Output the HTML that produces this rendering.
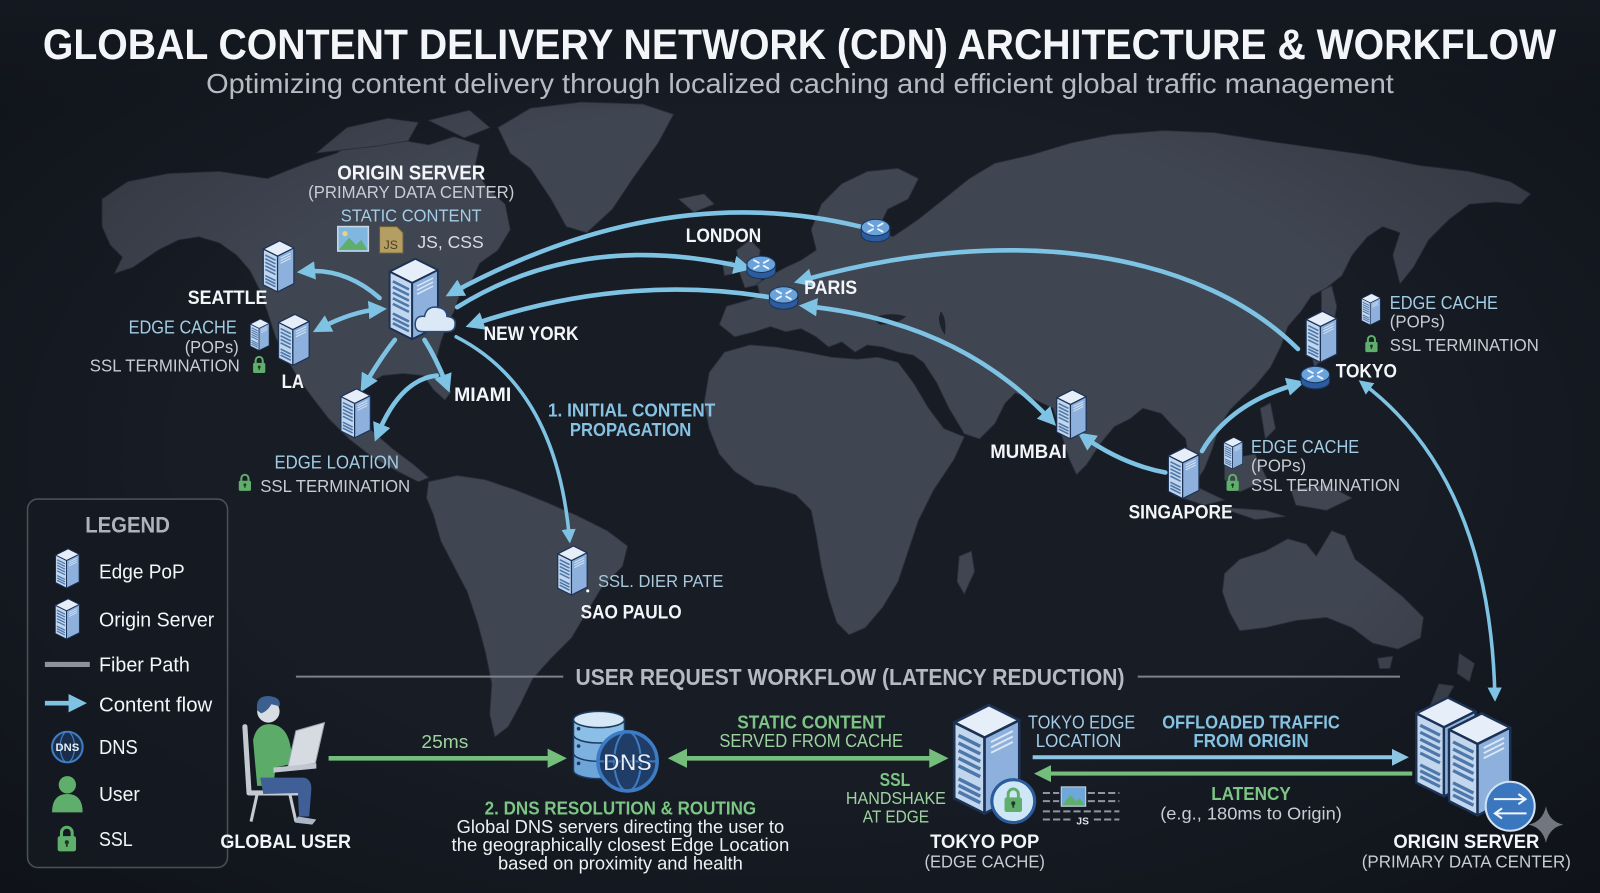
<!DOCTYPE html>
<html><head><meta charset="utf-8"><style>
html,body{margin:0;padding:0;background:#161b23;}
svg{display:block}
text{font-family:"Liberation Sans Narrow","Liberation Sans",sans-serif;}
.b{font-weight:bold}
.w{fill:#f3f5f8}
.g{fill:#c8cdd4}
.lb{fill:#a3cde6}
.bb{fill:#86c2e2}
.gr{fill:#7dc584}
.gl{fill:#9dd39f}
</style></head><body>
<svg width="1600" height="893" viewBox="0 0 1568 875" preserveAspectRatio="none" xmlns="http://www.w3.org/2000/svg">
<defs>
<radialGradient id="vig" cx="50%" cy="50%" r="70%">
<stop offset="0.55" stop-color="#000" stop-opacity="0"/>
<stop offset="1" stop-color="#000" stop-opacity="0.35"/>
</radialGradient>
<linearGradient id="topfade" x1="0" y1="0" x2="0" y2="1">
<stop offset="0" stop-color="#141820" stop-opacity="1"/>
<stop offset="1" stop-color="#141820" stop-opacity="0"/>
</linearGradient>
<marker id="mb" viewBox="0 0 10 10" refX="6" refY="5" markerWidth="4" markerHeight="4" orient="auto-start-reverse"><path d="M0,0 L10,5 L0,10 Z" fill="#7ec3e3"/></marker>
<marker id="mg" viewBox="0 0 10 10" refX="6" refY="5" markerWidth="4.2" markerHeight="4.2" orient="auto-start-reverse"><path d="M0,0 L10,5 L0,10 Z" fill="#74bd7b"/></marker>
<marker id="mb2" viewBox="0 0 10 10" refX="6" refY="5" markerWidth="4.2" markerHeight="4.2" orient="auto-start-reverse"><path d="M0,0 L10,5 L0,10 Z" fill="#8cc6e4"/></marker>
<symbol id="srv" viewBox="0 0 32 52">
<path d="M1,9 L17,1 L31,8 L15,16 Z" fill="#e6eefa" stroke="#1c3255" stroke-width="1.2" stroke-linejoin="round"/>
<path d="M1,9 L15,16 L15,51 L1,44 Z" fill="#c2d6ee" stroke="#1c3255" stroke-width="1.2" stroke-linejoin="round"/>
<path d="M15,16 L31,8 L31,43 L15,51 Z" fill="#8db1dc" stroke="#1c3255" stroke-width="1.2" stroke-linejoin="round"/>
<path d="M3,15 L13,20 M3,18.5 L13,23.5 M3,22 L13,27 M3,25.5 L13,30.5 M3,29 L13,34 M3,35 L13,40 M3,38 L13,43 M3,41 L13,46" stroke="#4e77aa" stroke-width="1.6"/>
<path d="M18,18 L28,13 M18,20.5 L28,15.5 M18,23 L28,18" stroke="#dbe7f5" stroke-width="0.9"/>
</symbol>
<symbol id="rtr" viewBox="0 0 30 30">
<path d="M1,12 V19 A14,7 0 0 0 29,19 V12 Z" fill="#2c5c9e" stroke="#18345e" stroke-width="1"/>
<ellipse cx="15" cy="12" rx="14" ry="8" fill="#6aa3dc" stroke="#18345e" stroke-width="1"/>
<path d="M8,8 L12.5,10.5 M22,8 L17.5,10.5 M8,16 L12.5,13.5 M22,16 L17.5,13.5" stroke="#eef5fc" stroke-width="1.8" stroke-linecap="round"/>
</symbol>
<symbol id="lock" viewBox="0 0 14 18">
<path d="M3.5,8 V5.2 A3.5,3.5 0 0 1 10.5,5.2 V8" fill="none" stroke="#5fae6b" stroke-width="2"/>
<rect x="1" y="7.5" width="12" height="10" rx="1.5" fill="#5fae6b"/>
<circle cx="7" cy="11.5" r="1.4" fill="#1e3a24"/><rect x="6.4" y="11.5" width="1.2" height="3" fill="#1e3a24"/>
</symbol>
</defs>

<rect width="1568" height="875" fill="#171c25"/>

<!-- MAP -->
<g fill="#3f4551" stroke="#2b303a" stroke-width="0.8">
<path d="M100,195 L125,178 L165,170 L215,168 L262,175 L300,160 L330,150 L345,140 L380,135 L420,142 L445,134 L470,142 L465,165 L478,185 L495,200 L500,225 L488,245 L470,258 L462,275 L450,290 L445,305 L438,318 L432,335 L428,350 L432,368 L442,384 L436,392 L425,382 L415,368 L395,366 L375,368 L358,378 L350,395 L362,420 L385,440 L405,455 L420,468 L410,472 L390,462 L365,448 L342,430 L322,410 L305,388 L292,370 L280,350 L270,330 L262,305 L255,285 L245,265 L232,250 L215,238 L195,232 L175,235 L155,245 L130,262 L112,268 L120,252 L108,240 L100,222 Z"/>
<path d="M310,150 L340,125 L380,116 L410,120 L400,138 L370,143 Z"/>
<path d="M420,118 L460,108 L480,125 L455,135 Z"/>
<path d="M488,125 L520,106 L570,100 L630,102 L660,112 L645,140 L620,175 L600,205 L575,228 L555,222 L540,195 L520,165 L500,150 Z"/>
<path d="M665,195 L690,190 L700,200 L680,208 Z"/>
<path d="M420,472 L448,466 L475,470 L505,480 L535,492 L565,505 L595,520 L615,535 L610,555 L590,575 L575,600 L560,625 L540,645 L522,665 L510,690 L498,712 L485,722 L480,700 L482,670 L476,640 L468,610 L458,580 L445,555 L432,530 L425,505 L418,488 Z"/>
<path d="M722,245 L735,235 L745,245 L742,265 L748,278 L730,282 L725,268 Z"/>
<path d="M708,258 L718,255 L720,268 L710,270 Z"/>
<path d="M705,318 L712,300 L730,295 L745,290 L742,278 L755,270 L770,262 L785,255 L800,245 L795,225 L805,200 L825,180 L850,168 L880,165 L900,175 L890,195 L870,205 L860,225 L875,232 L900,215 L925,195 L950,175 L975,160 L1010,152 L1050,140 L1090,132 L1140,128 L1190,130 L1240,138 L1290,145 L1340,152 L1390,162 L1440,168 L1480,178 L1500,190 L1490,200 L1465,198 L1440,200 L1420,215 L1400,235 L1385,262 L1372,278 L1365,250 L1372,228 L1355,222 L1340,232 L1325,250 L1315,270 L1300,282 L1285,290 L1275,305 L1262,320 L1255,340 L1245,360 L1230,378 L1215,392 L1205,402 L1195,418 L1188,440 L1180,460 L1170,475 L1162,468 L1165,450 L1162,430 L1150,418 L1138,405 L1120,400 L1108,410 L1092,418 L1078,435 L1065,455 L1055,465 L1048,450 L1040,425 L1032,400 L1015,392 L995,385 L985,395 L975,415 L960,430 L945,425 L930,400 L918,375 L905,355 L895,348 L880,345 L865,340 L850,338 L838,345 L825,335 L812,340 L800,330 L785,322 L770,325 L755,320 L740,325 L720,330 Z"/>
<path d="M695,365 L710,345 L735,338 L760,340 L790,345 L815,350 L840,352 L860,350 L880,355 L895,375 L910,400 L925,420 L945,428 L935,450 L915,480 L900,510 L890,540 L880,570 L865,595 L848,615 L832,622 L820,610 L812,585 L805,555 L800,525 L795,500 L780,485 L760,478 L740,475 L720,462 L705,445 L695,420 L690,395 Z"/>
<path d="M940,545 L952,540 L955,560 L945,582 L938,570 Z"/>
<path d="M1295,285 L1305,280 L1310,300 L1305,330 L1298,350 L1288,360 L1285,345 L1295,325 Z"/>
<path d="M1150,485 L1175,478 L1200,490 L1180,495 Z"/>
<path d="M1195,497 L1240,500 L1260,506 L1230,509 Z"/>
<path d="M1200,450 L1230,445 L1242,470 L1215,482 L1200,470 Z"/>
<path d="M1265,480 L1300,475 L1325,488 L1300,500 L1270,495 Z"/>
<path d="M1235,400 L1245,395 L1250,420 L1240,430 Z"/>
<path d="M1200,562 L1215,548 L1240,540 L1262,528 L1280,533 L1290,545 L1305,520 L1318,525 L1328,548 L1350,565 L1375,585 L1395,605 L1392,625 L1370,636 L1345,630 L1325,615 L1300,605 L1270,608 L1240,615 L1215,618 L1205,600 L1198,580 Z"/>
<path d="M1350,645 L1365,643 L1362,655 L1352,655 Z"/>
<path d="M1430,640 L1445,650 L1440,668 L1428,660 Z"/>
<path d="M1410,670 L1425,672 L1415,690 L1400,695 Z"/>
</g>
<g fill="#1d222b"><path d="M855,312 Q870,305 888,310 Q880,318 862,318 Z"/><path d="M922,305 Q928,312 926,328 Q921,322 920,312 Z"/></g>
<rect width="1568" height="875" fill="url(#vig)"/>
<rect width="1568" height="110" fill="url(#topfade)"/>

<!-- TITLE -->
<text x="42" y="58" class="b w" font-size="42" textLength="1483" lengthAdjust="spacingAndGlyphs">GLOBAL CONTENT DELIVERY NETWORK (CDN) ARCHITECTURE &amp; WORKFLOW</text>
<text x="202" y="91" fill="#b6bbc3" font-size="27" textLength="1164" lengthAdjust="spacingAndGlyphs">Optimizing content delivery through localized caching and efficient global traffic management</text>

<!-- ARROWS -->
<g fill="none" stroke="#7ec3e3" stroke-width="4.5" stroke-linecap="round">
<path d="M372,292 Q338,262 298,266" marker-end="url(#mb)"/>
<path d="M372,303 Q345,305 313,322" marker-start="url(#mb)" marker-end="url(#mb)"/>
<path d="M387,333 Q372,352 357,378" marker-end="url(#mb)"/>
<path d="M416,333 Q428,352 438,378" marker-end="url(#mb)"/>
<path d="M428,368 Q392,372 370,426" marker-end="url(#mb)"/>
<path d="M843,222 Q650,175 443,287" marker-end="url(#mb)"/>
<path d="M448,301 Q570,225 730,262" marker-end="url(#mb)"/>
<path d="M753,291 Q610,268 463,318" marker-end="url(#mb)"/>
<path d="M1272,342 C1180,250 1000,215 785,275" marker-end="url(#mb)"/>
<path d="M790,300 Q940,315 1030,412" marker-start="url(#mb)" marker-end="url(#mb)"/>
<path d="M1142,463 Q1100,455 1062,428" marker-end="url(#mb)"/>
<path d="M1178,442 Q1205,395 1272,376" marker-end="url(#mb)"/>
<path d="M1336,376 Q1460,470 1465,682" stroke-width="3.5" marker-start="url(#mb)" marker-end="url(#mb)"/>
<path d="M447,330 Q545,380 558,527" stroke-width="3.5" marker-end="url(#mb)"/>
</g>

<!-- MAP ICONS -->
<use href="#srv" x="377" y="252" width="57" height="82"/>
<path d="M414,325 Q406,325 407,316 Q408,309 416,310 Q418,300 428,301 Q438,302 438,310 Q447,311 446,318 Q446,325 438,325 Z" fill="#dbe8f6" stroke="#2a4a78" stroke-width="1.5"/>
<use href="#srv" x="257" y="235" width="32" height="52"/>
<use href="#srv" x="244" y="312" width="21" height="32"/>
<use href="#srv" x="272" y="307" width="32" height="52"/>
<use href="#srv" x="333" y="380" width="31" height="50"/>
<use href="#srv" x="545" y="534" width="32" height="50"/>
<use href="#srv" x="1034" y="381" width="32" height="50"/>
<use href="#srv" x="1279" y="304" width="32" height="52"/>
<use href="#srv" x="1333" y="287" width="21" height="32"/>
<use href="#srv" x="1144" y="437" width="32" height="53"/>
<use href="#srv" x="1198" y="428" width="21" height="32"/>
<use href="#rtr" x="843" y="211" width="30" height="30"/>
<use href="#rtr" x="731" y="247" width="30" height="30"/>
<use href="#rtr" x="753" y="277" width="30" height="30"/>
<use href="#rtr" x="1274" y="355" width="30" height="30"/>
<use href="#lock" x="247" y="348" width="14" height="18"/>
<use href="#lock" x="233" y="463" width="14" height="19"/>
<use href="#lock" x="1337" y="327" width="14" height="19"/>
<use href="#lock" x="1201" y="463" width="14" height="19"/>
<!-- static content icons -->
<rect x="331" y="222" width="30" height="24" fill="#7fb7e0" stroke="#c9d6e4" stroke-width="1.5"/>
<path d="M332,245 L342,233 L349,240 L354,235 L360,245 Z" fill="#5fae6b"/>
<circle cx="338" cy="229" r="2.5" fill="#e8d77a"/>
<path d="M372,222 L389,222 L395,228 L395,248 L372,248 Z" fill="#b59e63" stroke="#6d5d34" stroke-width="1"/>
<text x="383" y="244" font-size="12" fill="#4a3e20" text-anchor="middle">JS</text>

<!-- MAP LABELS -->
<text x="403" y="176" class="b w" font-size="20" text-anchor="middle" textLength="145" lengthAdjust="spacingAndGlyphs">ORIGIN SERVER</text>
<text x="403" y="194" class="g" font-size="17" text-anchor="middle" textLength="202" lengthAdjust="spacingAndGlyphs">(PRIMARY DATA CENTER)</text>
<text x="403" y="217" class="lb" font-size="17" text-anchor="middle" textLength="138" lengthAdjust="spacingAndGlyphs">STATIC CONTENT</text>
<text x="409" y="243" fill="#d8dde5" font-size="17" textLength="65" lengthAdjust="spacingAndGlyphs">JS,  CSS</text>
<text x="262" y="298" class="b w" font-size="19" text-anchor="end" textLength="78" lengthAdjust="spacingAndGlyphs">SEATTLE</text>
<text x="232" y="327" class="lb" font-size="18" text-anchor="end" textLength="106" lengthAdjust="spacingAndGlyphs">EDGE CACHE</text>
<text x="234" y="346" class="g" font-size="17" text-anchor="end" textLength="53" lengthAdjust="spacingAndGlyphs">(POPs)</text>
<text x="235" y="364" class="g" font-size="17" text-anchor="end" textLength="147" lengthAdjust="spacingAndGlyphs">SSL TERMINATION</text>
<text x="276" y="380" class="b w" font-size="19" textLength="22" lengthAdjust="spacingAndGlyphs">LA</text>
<text x="474" y="333" class="b w" font-size="19" textLength="93" lengthAdjust="spacingAndGlyphs">NEW YORK</text>
<text x="445" y="393" class="b w" font-size="19" textLength="56" lengthAdjust="spacingAndGlyphs">MIAMI</text>
<text x="330" y="459" class="lb" font-size="18" text-anchor="middle" textLength="122" lengthAdjust="spacingAndGlyphs">EDGE LOATION</text>
<text x="255" y="482" class="g" font-size="17" textLength="147" lengthAdjust="spacingAndGlyphs">SSL TERMINATION</text>
<text x="619" y="408" class="b bb" font-size="18" text-anchor="middle" textLength="164" lengthAdjust="spacingAndGlyphs">1. INITIAL CONTENT</text>
<text x="618" y="427" class="b bb" font-size="18" text-anchor="middle" textLength="119" lengthAdjust="spacingAndGlyphs">PROPAGATION</text>
<text x="709" y="237" class="b w" font-size="19" text-anchor="middle" textLength="74" lengthAdjust="spacingAndGlyphs">LONDON</text>
<text x="788" y="288" class="b w" font-size="19" textLength="52" lengthAdjust="spacingAndGlyphs">PARIS</text>
<text x="1008" y="449" class="b w" font-size="19" text-anchor="middle" textLength="75" lengthAdjust="spacingAndGlyphs">MUMBAI</text>
<text x="1309" y="370" class="b w" font-size="19" textLength="60" lengthAdjust="spacingAndGlyphs">TOKYO</text>
<text x="1362" y="303" class="lb" font-size="18" textLength="106" lengthAdjust="spacingAndGlyphs">EDGE CACHE</text>
<text x="1362" y="321" class="g" font-size="17" textLength="54" lengthAdjust="spacingAndGlyphs">(POPs)</text>
<text x="1362" y="344" class="g" font-size="17" textLength="146" lengthAdjust="spacingAndGlyphs">SSL TERMINATION</text>
<text x="1226" y="444" class="lb" font-size="18" textLength="106" lengthAdjust="spacingAndGlyphs">EDGE CACHE</text>
<text x="1226" y="462" class="g" font-size="17" textLength="54" lengthAdjust="spacingAndGlyphs">(POPs)</text>
<text x="1226" y="481" class="g" font-size="17" textLength="146" lengthAdjust="spacingAndGlyphs">SSL TERMINATION</text>
<text x="1157" y="508" class="b w" font-size="19" text-anchor="middle" textLength="102" lengthAdjust="spacingAndGlyphs">SINGAPORE</text>
<text x="586" y="575" fill="#a9c8dc" font-size="17" textLength="123" lengthAdjust="spacingAndGlyphs">SSL. DIER PATE</text>
<circle cx="576" cy="579" r="1.5" fill="#fff"/>
<text x="569" y="606" class="b w" font-size="19" textLength="99" lengthAdjust="spacingAndGlyphs">SAO PAULO</text>

<!-- LEGEND -->
<rect x="27" y="489" width="196" height="361" rx="10" fill="#151a22" fill-opacity="0.85" stroke="#4a505a" stroke-width="1.5"/>
<text x="125" y="522" fill="#aeb3bb" class="b" font-size="22" text-anchor="middle" textLength="83" lengthAdjust="spacingAndGlyphs">LEGEND</text>
<use href="#srv" x="53" y="537" width="26" height="40"/>
<use href="#srv" x="53" y="586" width="26" height="41"/>
<line x1="44" y1="651" x2="88" y2="651" stroke="#8d939c" stroke-width="5"/>
<line x1="44" y1="689" x2="78" y2="689" stroke="#7ec3e3" stroke-width="4.5" marker-end="url(#mb)"/>
<circle cx="66" cy="732" r="15" fill="#1a2d4a" stroke="#3f7dc4" stroke-width="2"/>
<ellipse cx="66" cy="732" rx="7" ry="15" fill="none" stroke="#3f7dc4" stroke-width="1.2"/>
<text x="66" y="736" fill="#e8eef5" font-size="11" class="b" text-anchor="middle">DNS</text>
<circle cx="66" cy="769" r="8.5" fill="#5fae6b"/>
<path d="M51,796 Q51,778 66,778 Q81,778 81,796 Z" fill="#5fae6b"/>
<use href="#lock" x="55" y="808" width="21" height="27"/>
<g class="w" fill="#e8eaed" font-size="20">
<text x="97" y="567" textLength="84" lengthAdjust="spacingAndGlyphs">Edge PoP</text>
<text x="97" y="614" textLength="113" lengthAdjust="spacingAndGlyphs">Origin Server</text>
<text x="97" y="658" textLength="89" lengthAdjust="spacingAndGlyphs">Fiber Path</text>
<text x="97" y="697" textLength="111" lengthAdjust="spacingAndGlyphs">Content flow</text>
<text x="97" y="739" textLength="38" lengthAdjust="spacingAndGlyphs">DNS</text>
<text x="97" y="785" textLength="40" lengthAdjust="spacingAndGlyphs">User</text>
<text x="97" y="829" textLength="33" lengthAdjust="spacingAndGlyphs">SSL</text>
</g>

<!-- WORKFLOW HEADER -->
<line x1="290" y1="663" x2="552" y2="663" stroke="#7d838c" stroke-width="2"/>
<line x1="1115" y1="663" x2="1372" y2="663" stroke="#7d838c" stroke-width="2"/>
<text x="564" y="671" fill="#b5b9c1" class="b" font-size="23" textLength="538" lengthAdjust="spacingAndGlyphs">USER REQUEST WORKFLOW (LATENCY REDUCTION)</text>

<!-- GLOBAL USER -->
<g>
<line x1="240" y1="712" x2="244" y2="776" stroke="#c5cad2" stroke-width="5" stroke-linecap="round"/>
<line x1="244" y1="777" x2="292" y2="777" stroke="#c5cad2" stroke-width="5" stroke-linecap="round"/>
<line x1="252" y1="778" x2="246" y2="805" stroke="#c5cad2" stroke-width="3"/>
<line x1="284" y1="778" x2="290" y2="805" stroke="#c5cad2" stroke-width="3"/>
<path d="M248,725 Q252,707 268,710 Q280,712 284,728 L288,748 L270,752 L268,770 L252,770 Z" fill="#5dab68"/>
<path d="M255,762 L298,762 Q306,764 305,775 L303,800 L293,800 L292,777 L258,778 Z" fill="#3f5f96"/>
<path d="M292,800 L310,803 L306,808 L289,806 Z" fill="#aab6c6"/>
<circle cx="263" cy="697" r="11" fill="#d8dde4"/>
<path d="M252,696 Q250,682 263,682 Q276,683 274,692 L266,690 Q262,697 256,699 Z" fill="#3b5f8e"/>
<path d="M290,716 L318,708 L309,748 L282,752 Z" fill="#d6dbe2" stroke="#9aa3ae" stroke-width="1"/>
<path d="M268,752 L310,748 L310,753 L268,757 Z" fill="#c0c7d0"/>
</g>
<text x="280" y="831" class="b w" font-size="19" text-anchor="middle" textLength="128" lengthAdjust="spacingAndGlyphs">GLOBAL USER</text>

<!-- green arrows -->
<line x1="322" y1="743" x2="548" y2="743" stroke="#74bd7b" stroke-width="4.5" marker-end="url(#mg)"/>
<text x="436" y="733" class="gl" font-size="18" text-anchor="middle" textLength="46" lengthAdjust="spacingAndGlyphs">25ms</text>
<line x1="662" y1="743" x2="922" y2="743" stroke="#74bd7b" stroke-width="4.5" marker-start="url(#mg)" marker-end="url(#mg)"/>

<!-- DNS icon -->
<g stroke="#1d3a5f" stroke-width="1.5">
<path d="M562,740 V755 A25,8 0 0 0 612,755 V740 Z" fill="#6ea5d8"/>
<path d="M562,722 V738 A25,8 0 0 0 612,738 V722 Z" fill="#7db2e0"/>
<path d="M562,705 V720 A25,8 0 0 0 612,720 V705 Z" fill="#8cbfe8"/>
<ellipse cx="587" cy="705" rx="25" ry="8" fill="#d6e7f6"/>
</g>
<circle cx="567" cy="714" r="1.8" fill="#1d3a5f"/><circle cx="567" cy="731" r="1.8" fill="#1d3a5f"/><circle cx="567" cy="748" r="1.8" fill="#1d3a5f"/>
<circle cx="615" cy="746" r="29" fill="#1f3d66" stroke="#3d7bc4" stroke-width="3.5"/>
<ellipse cx="615" cy="746" rx="13" ry="29" fill="none" stroke="#3d7bc4" stroke-width="2"/>
<line x1="586" y1="746" x2="644" y2="746" stroke="#3d7bc4" stroke-width="2"/>
<text x="615" y="755" class="b" fill="#e6eef7" stroke="#1f3d66" stroke-width="1" font-size="24" text-anchor="middle" textLength="48" lengthAdjust="spacingAndGlyphs">DNS</text>

<text x="608" y="798" class="b gr" font-size="18" text-anchor="middle" textLength="266" lengthAdjust="spacingAndGlyphs">2. DNS RESOLUTION &amp; ROUTING</text>
<text x="608" y="816" fill="#eef1f4" font-size="18" text-anchor="middle" textLength="321" lengthAdjust="spacingAndGlyphs">Global DNS servers directing the user to</text>
<text x="608" y="834" fill="#eef1f4" font-size="18" text-anchor="middle" textLength="331" lengthAdjust="spacingAndGlyphs">the geographically closest Edge Location</text>
<text x="608" y="852" fill="#eef1f4" font-size="18" text-anchor="middle" textLength="240" lengthAdjust="spacingAndGlyphs">based on proximity and health</text>

<text x="795" y="714" class="b gr" font-size="18" text-anchor="middle" textLength="145" lengthAdjust="spacingAndGlyphs">STATIC CONTENT</text>
<text x="795" y="732" class="gl" font-size="18" text-anchor="middle" textLength="180" lengthAdjust="spacingAndGlyphs">SERVED FROM CACHE</text>
<text x="877" y="770" class="b gr" font-size="18" text-anchor="middle" textLength="30" lengthAdjust="spacingAndGlyphs">SSL</text>
<text x="878" y="788" class="gl" font-size="17" text-anchor="middle" textLength="98" lengthAdjust="spacingAndGlyphs">HANDSHAKE</text>
<text x="878" y="806" class="gl" font-size="17" text-anchor="middle" textLength="65" lengthAdjust="spacingAndGlyphs">AT EDGE</text>

<!-- Tokyo POP -->
<use href="#srv" x="933" y="688" width="68" height="112"/>
<circle cx="993" cy="785" r="21" fill="#cfe6f7" stroke="#2a5b9b" stroke-width="3"/>
<use href="#lock" x="983" y="770" width="20" height="27"/>
<text x="1060" y="714" class="lb" font-size="18" text-anchor="middle" textLength="105" lengthAdjust="spacingAndGlyphs">TOKYO EDGE</text>
<text x="1057" y="732" class="lb" font-size="18" text-anchor="middle" textLength="84" lengthAdjust="spacingAndGlyphs">LOCATION</text>
<text x="965" y="831" class="b w" font-size="19" text-anchor="middle" textLength="107" lengthAdjust="spacingAndGlyphs">TOKYO POP</text>
<text x="965" y="850" class="g" font-size="17" text-anchor="middle" textLength="118" lengthAdjust="spacingAndGlyphs">(EDGE CACHE)</text>

<!-- blue / green arrows right -->
<line x1="1012" y1="742" x2="1374" y2="742" stroke="#8cc6e4" stroke-width="4" marker-end="url(#mb2)"/>
<line x1="1384" y1="758" x2="1020" y2="758" stroke="#74bd7b" stroke-width="4" marker-end="url(#mg)"/>
<text x="1226" y="714" class="b bb" font-size="18" text-anchor="middle" textLength="174" lengthAdjust="spacingAndGlyphs">OFFLOADED TRAFFIC</text>
<text x="1226" y="732" class="b bb" font-size="18" text-anchor="middle" textLength="113" lengthAdjust="spacingAndGlyphs">FROM ORIGIN</text>
<text x="1226" y="784" class="b gr" font-size="18" text-anchor="middle" textLength="78" lengthAdjust="spacingAndGlyphs">LATENCY</text>
<text x="1226" y="803" class="g" font-size="17" text-anchor="middle" textLength="178" lengthAdjust="spacingAndGlyphs">(e.g., 180ms to Origin)</text>

<!-- JS doc icon -->
<g stroke="#8d96a3" stroke-width="2" stroke-dasharray="7,3">
<line x1="1022" y1="777" x2="1038" y2="777"/><line x1="1066" y1="777" x2="1097" y2="777"/>
<line x1="1022" y1="785" x2="1038" y2="785"/><line x1="1066" y1="785" x2="1097" y2="785"/>
<line x1="1022" y1="795" x2="1097" y2="795"/>
<line x1="1022" y1="803" x2="1050" y2="803"/><line x1="1072" y1="803" x2="1097" y2="803"/>
</g>
<rect x="1040" y="771" width="24" height="19" fill="#6fa8d8" stroke="#c9d6e4" stroke-width="1"/>
<path d="M1041,789 L1049,779 L1055,785 L1058,782 L1063,789 Z" fill="#5fae6b"/>
<text x="1061" y="808" fill="#dde3ea" font-size="10" class="b" text-anchor="middle">JS</text>

<!-- Origin server bottom -->
<use href="#srv" x="1386" y="676" width="62" height="112"/>
<use href="#srv" x="1418" y="693" width="64" height="112"/>
<circle cx="1480" cy="790" r="24" fill="#3b77bf" stroke="#cfe3f5" stroke-width="2"/>
<path d="M1464,783 L1494,783 M1488,778 L1495,783 L1488,788 M1496,797 L1466,797 M1472,792 L1465,797 L1472,802" fill="none" stroke="#f1f6fb" stroke-width="2"/>
<text x="1437" y="831" class="b w" font-size="19" text-anchor="middle" textLength="143" lengthAdjust="spacingAndGlyphs">ORIGIN SERVER</text>
<text x="1437" y="850" class="g" font-size="17" text-anchor="middle" textLength="205" lengthAdjust="spacingAndGlyphs">(PRIMARY DATA CENTER)</text>

<!-- sparkle -->
<path d="M1515,790 Q1518,805 1532,808 Q1518,811 1515,826 Q1512,811 1498,808 Q1512,805 1515,790 Z" fill="#8a8f98" fill-opacity="0.8"/>
</svg>
</body></html>
